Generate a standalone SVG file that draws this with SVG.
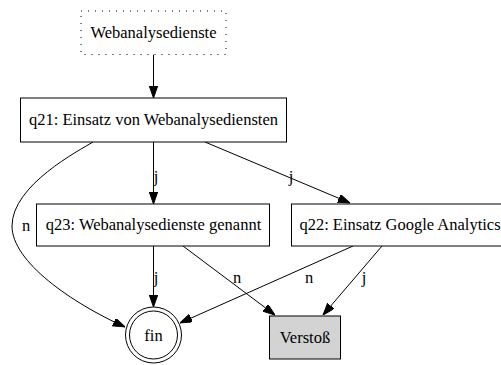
<svg xmlns="http://www.w3.org/2000/svg" width="501" height="365" viewBox="0 0 501 365" font-family="Liberation Serif, Times New Roman, DejaVu Serif, serif" font-size="16.5">
<style>
text{font-family:'Liberation Serif','Times New Roman','DejaVu Serif',serif;font-size:16.5px;fill:#000;text-anchor:middle}
.box{fill:#fff;stroke:#000;stroke-width:1}
.e{fill:none;stroke:#000;stroke-width:1;marker-end:url(#arr)}
</style>
<defs>
<marker id="arr" markerUnits="userSpaceOnUse" markerWidth="12" markerHeight="9" refX="12" refY="4.2" orient="auto">
<path d="M0,0 L12,4.2 L0,8.4 z" fill="#000" stroke="#000" stroke-width="1"/>
</marker>
</defs>
<rect width="501" height="365" fill="#fff"/>
<g id="connectors">
<path class="e" d="M153.5,54.5 L153.5,98"/>
<path class="e" d="M153.5,142 L153.5,204"/>
<text x="156" y="182">j</text>
<path class="e" d="M205,142 L350,203"/>
<text x="291" y="182">j</text>
<path class="e" d="M93,142 C80,150 12,185 12,226 C12,262 72,303 125,327"/>
<text x="26" y="231">n</text>
<path class="e" d="M153.5,246 L153.5,307"/>
<text x="156" y="283">j</text>
<path class="e" d="M183,246 L275,315"/>
<text x="237" y="283">n</text>
<path class="e" d="M353,246 L180,323"/>
<text x="309" y="283">n</text>
<path class="e" d="M382,246 L323,315"/>
<text x="364" y="283">j</text>
</g>
<g id="webanalysedienste">
<rect x="81" y="11" width="145" height="43.5" fill="#fff" stroke="#000" stroke-width="1" stroke-dasharray="1,6"/>
<text x="153.5" y="38">Webanalysedienste</text>
</g>
<g id="q21">
<rect class="box" x="20.5" y="98" width="266" height="44"/>
<text x="153.5" y="125">q21: Einsatz von Webanalysediensten</text>
</g>
<g id="q23">
<rect class="box" x="36.5" y="204" width="233" height="42"/>
<text x="153.5" y="230">q23: Webanalysedienste genannt</text>
</g>
<g id="q22">
<rect class="box" x="291.5" y="204" width="220" height="42"/>
<text x="400" y="230">q22: Einsatz Google Analytics</text>
</g>
<g id="fin">
<circle cx="153.5" cy="335" r="28" fill="#fff" stroke="#000" stroke-width="1"/>
<circle cx="153.5" cy="335" r="24" fill="none" stroke="#000" stroke-width="1"/>
<text x="153.5" y="341">fin</text>
</g>
<g id="verstoss">
<rect x="269.5" y="316" width="71" height="43" fill="#d3d3d3" stroke="#000" stroke-width="1"/>
<text x="305" y="343">Verstoß</text>
</g>
</svg>
